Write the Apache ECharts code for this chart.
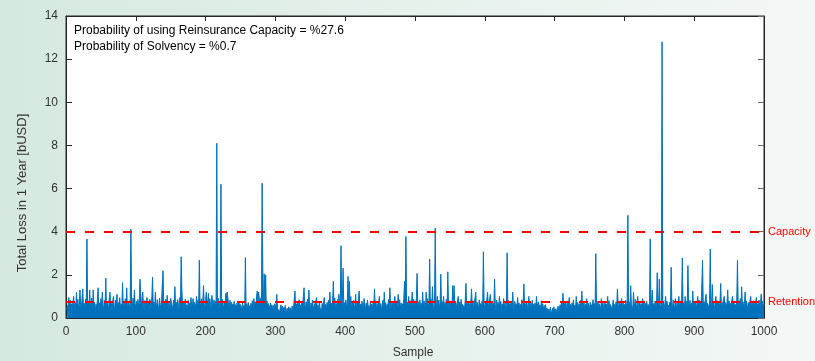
<!DOCTYPE html>
<html><head><meta charset="utf-8">
<script src="https://cdn.jsdelivr.net/npm/echarts@6/dist/echarts.min.js"></script>
<style>
html,body{margin:0;padding:0;}
#c{width:815px;height:361px;background:linear-gradient(to right,#d5e9e0 0%,#e6f1ec 50%,#f3f7f5 100%);}
</style>
</head><body><div id="c"></div>
<script>
// Total loss per sample [bUSD], samples 1..1000 in blocks of 100
const loss0 = [
.42,.38,.61,.95,.47,.83,.29,.66,.52,.74,
1.0,.45,.71,.33,1.2,.58,.86,.41,.63,1.3,
.55,.37,.92,1.35,.48,.69,.31,.88,.6,3.66,
.44,.79,.52,1.3,.36,.67,.93,.4,1.3,.57,
.73,.26,.64,.49,.85,1.4,.38,.7,.54,.9,
.46,1.2,.62,.34,.81,.5,1.85,.43,.75,.59,
.39,.87,1.2,.48,.68,.32,.79,1.0,.55,.41,
.83,.6,1.1,.36,.72,.5,.94,.44,.65,.38,
1.64,.57,.76,.42,.89,.53,1.4,.35,.7,.61,
.47,.84,4.12,.58,.4,.92,.51,1.3,.66,.45];
const loss1 = [
.78,.39,.86,.54,.68,1.8,1.75,.47,.9,1.2,
.52,.37,.81,.63,.44,.95,.58,.71,.33,.87,
.6,.45,.99,1.89,.53,.74,.4,1.2,.66,.49,
.85,.57,.36,.93,.61,.48,.77,1.6,2.19,.55,
.72,.43,.88,.5,1.05,.38,.79,.62,.46,.91,
.9,.54,.41,.83,.67,1.45,.5,.73,.36,.86,
.59,.44,.95,.63,2.84,1.3,.52,.78,.4,.69,
.87,.48,.61,.35,.82,.56,.7,.43,.95,.6,
.5,.9,.38,.74,.64,.47,1.0,.55,.83,.42,
2.68,.71,.53,.89,.46,.77,1.5,.6,.41,.85];
const loss2 = [
1.2,.55,.74,1.15,.48,.9,.62,.39,1.05,.68,
.51,.84,.44,.77,.6,8.1,.53,.92,.42,.71,
.58,6.2,.47,.86,.64,.35,.79,.55,1.15,.9,
1.2,1.25,.61,.46,.82,.53,.72,.39,.66,.5,
.78,.43,.62,.35,.7,.56,.48,.74,.4,.63,
.52,.37,.69,.45,.58,.33,2.8,.5,.64,.41,
.72,.46,.57,.36,.68,.52,.8,.44,.9,.6,
.75,.5,.98,1.25,.66,1.2,.85,.58,.93,.71,
6.25,2.08,.62,2.05,.54,2.0,.48,.79,.4,.67,
.55,.37,.7,.45,.61,.33,.58,.42,.66,.5];
const loss3 = [
.63,1.1,.44,.36,.52,.28,.47,.61,.32,.55,
.3,.49,.38,.58,.6,.27,.45,.35,.52,.31,
.48,.4,.29,.56,.37,.5,.42,1.25,.46,.66,
.39,.72,.53,.85,.44,.61,.36,.78,.57,.48,
1.4,.62,.41,.75,.5,.88,.45,1.3,.59,.38,
.7,.47,.83,.55,.36,.66,.51,.79,.95,.43,
.6,.34,.74,.48,.57,.29,.68,.45,.53,.95,
.41,.63,.37,.72,.5,.82,.44,1.2,.56,.69,
.46,.78,1.7,.58,.93,.43,.67,.52,.86,.4,
1.1,.61,.75,3.35,.5,.88,2.31,.47,.71,.55];
const loss4 = [
.84,.42,.66,1.93,.59,1.7,.5,1.0,.38,.73,
.56,.81,.45,.62,1.1,.39,.7,.53,.9,1.25,
.47,.64,.35,.78,.55,.42,.9,.6,.37,.69,
.51,.83,.44,.58,.36,.72,.49,.65,.4,.77,
.54,1.35,.46,.8,.38,.61,.52,.74,1.0,.43,
.67,.35,.58,.82,.47,1.2,.55,.71,.4,.63,
.5,.86,.44,1.4,.59,.37,.75,.52,.68,.41,
1.0,.56,.79,.45,.62,1.1,.48,.85,.39,.7,
.53,.66,.42,.9,1.7,.58,3.78,.47,.74,.61,
1.0,.44,.8,.55,.68,1.2,.5,.87,.41,.73];
const loss5 = [
.6,.92,2.07,.48,.75,.56,.84,.43,.68,.52,
1.2,.47,.79,.58,.38,1.2,.63,.9,.45,.71,
2.73,.54,.86,.49,1.45,.6,.41,.77,4.17,.56,
.68,1.0,.44,.83,.52,.65,2.03,.47,.76,.58,
1.0,.4,.72,.55,.88,.46,2.14,.61,.37,.8,
.53,.69,.44,1.5,.62,1.5,.48,.78,.35,.66,
.57,1.0,.42,.74,.5,.87,.39,.63,.55,.71,
.45,.82,1.6,.51,.68,.38,.76,.59,.44,.7,
1.35,.52,.8,.41,.65,.57,1.2,.46,.73,.6,
.39,.84,.53,.67,.45,.78,.56,3.07,.62,.48];
const loss6 = [
.74,.5,.88,1.2,.43,.66,.57,1.1,.4,.79,
.55,.69,.46,1.8,.61,.37,.83,.52,.72,.44,
1.0,.58,.76,.41,.65,.53,.9,.47,.7,.36,
.62,3.02,.5,.81,.45,.68,.56,.74,.42,1.2,
.59,.38,.77,.51,.66,.44,.95,.55,.7,.4,
.63,.48,.85,.36,.72,1.58,.5,.67,.43,.78,
.54,.41,1.0,.6,.46,.73,.37,.82,.52,.64,
.45,.7,.39,1.0,.56,.48,.75,.42,.61,.35,
.8,.5,.66,.38,.58,.44,.62,.33,.47,.28,
.41,.22,.36,.5,.18,.31,.45,.24,.52,.33];
const loss7 = [
.27,.43,.19,.38,.55,.3,.46,.62,.39,.71,
.5,1.15,.44,.68,.36,.79,.53,.41,.74,.58,
.95,.47,.63,.39,.7,.52,.84,.45,.6,.37,
1.0,.55,.72,.43,.66,.5,.81,.4,1.25,.59,
.46,.75,.38,.64,.52,.9,.44,.69,.57,.36,
.73,.48,.62,.41,.85,.54,.67,.39,2.98,.6,
.5,.78,.43,.66,.55,.35,.9,.48,.71,.58,
.42,.76,.53,.65,.38,1.0,.57,.8,.45,.62,
.7,.4,.58,.84,.47,.63,.36,.75,.52,1.35,
.6,.44,.79,.55,.68,.9,.41,.72,.5,.63];
const loss8 = [
.47,.82,.56,.69,4.76,.53,.75,.42,1.5,.64,
.58,.38,1.2,.7,.49,.86,.55,.44,1.0,.61,
.36,.73,.52,.66,.43,.9,.57,.8,.4,.68,
.54,.77,.45,.63,.38,.71,3.67,.56,.84,1.3,
.5,.67,.44,.79,.59,.41,2.1,.72,.53,1.8,
.62,.46,.88,12.8,.55,.7,.4,.65,1.0,.51,
.78,.43,.6,.37,.74,.52,2.35,.66,.48,.83,
.57,.4,.9,.63,.45,.76,.54,1.0,.42,.69,
.6,.85,2.78,.5,.71,.44,1.0,.58,.77,.47,
2.43,.65,.53,.82,.41,.7,.56,1.25,.48,.74];
const loss9 = [
.52,.79,.44,.67,1.0,.58,.83,.4,.71,.55,
.63,2.67,.47,.76,.53,.88,1.1,.42,.68,.6,
.45,.81,3.2,.56,.7,1.55,.49,.74,.38,.65,
1.0,.54,.8,.43,.69,.51,.77,1.6,.46,.62,
.58,.85,1.0,.41,.72,.55,.66,1.3,.48,.79,
.52,.68,.4,.86,1.0,.57,.74,.45,.63,.5,
.82,2.68,.47,.7,.56,.9,.43,1.45,.61,.75,
.5,.66,1.2,.44,.79,.58,.38,.72,.53,.84,
1.0,.46,.69,.55,.8,.41,.74,.6,.95,.48,
.67,.52,.83,.44,.71,1.1,.57,.78,.43,.65];

const capacityLevel = 4;
const retentionLevel = 0.75;
const thresholdNames = ['Capacity', 'Retention'];
const annotationLines = ['Probability of using Reinsurance Capacity = %27.6', 'Probability of Solvency = %0.7'];
const xName = 'Sample';
const yName = 'Total Loss in 1 Year [bUSD]';

const loss = [].concat(loss0, loss1, loss2, loss3, loss4, loss5, loss6, loss7, loss8, loss9);
const seriesData = loss.map((v, i) => [i + 1, v]);

const FONT = "'Liberation Sans', Arial, sans-serif";
const chart = echarts.init(document.getElementById('c'), null, {renderer: 'canvas'});
const gridL = 66, gridR = 51, gridT = 16, gridB = 43;
const axisLineStyle = {color: '#262626', width: 1};
chart.setOption({
  animation: false,
  backgroundColor: 'transparent',
  grid: {left: gridL, right: gridR, top: gridT, bottom: gridB, show: true, backgroundColor: '#ffffff', borderColor: '#262626', borderWidth: 1, containLabel: false},
  xAxis: [{
    type: 'value', min: 0, max: 1000, interval: 100, position: 'bottom',
    axisLine: {show: true, onZero: false, lineStyle: axisLineStyle},
    axisTick: {show: true, inside: true, length: 5, lineStyle: axisLineStyle},
    axisLabel: {color: '#333', fontSize: 12, fontFamily: FONT, margin: 8, formatter: v => String(v)},
    splitLine: {show: false}
  }, {
    type: 'value', min: 0, max: 1000, interval: 100, position: 'top',
    axisLine: {show: true, onZero: false, lineStyle: axisLineStyle},
    axisTick: {show: true, inside: true, length: 5, lineStyle: axisLineStyle},
    axisLabel: {show: false}, splitLine: {show: false}
  }],
  yAxis: [{
    type: 'value', min: 0, max: 14, interval: 2, position: 'left',
    axisLine: {show: true, onZero: false, lineStyle: axisLineStyle},
    axisTick: {show: true, inside: true, length: 6, lineStyle: axisLineStyle},
    axisLabel: {color: '#333', fontSize: 12, fontFamily: FONT, margin: 8},
    splitLine: {show: false}
  }, {
    type: 'value', min: 0, max: 14, interval: 2, position: 'right',
    axisLine: {show: true, onZero: false, lineStyle: axisLineStyle},
    axisTick: {show: true, inside: true, length: 6, lineStyle: {color: '#666', width: 1}},
    axisLabel: {show: false}, splitLine: {show: false}
  }],
  series: [{
    type: 'line', data: seriesData, xAxisIndex: 0, yAxisIndex: 0,
    showSymbol: false, symbol: 'none', sampling: null,
    lineStyle: {color: '#0072BD', width: 1},
    areaStyle: {color: '#0072BD', opacity: 1},
    z: 2,
    markLine: {
      silent: true, symbol: 'none', animation: false,
      lineStyle: {color: '#ff0000', width: 2, type: [9, 10]},
      label: {show: true, position: 'end', distance: 4, color: '#ff0000', fontSize: 11, fontFamily: FONT, formatter: p => p.name},
      data: [
        {name: thresholdNames[0], yAxis: capacityLevel},
        {name: thresholdNames[1], yAxis: retentionLevel}
      ]
    }
  }],
  graphic: [
    {type: 'text', left: 74, top: 25, style: {text: annotationLines[0], fill: '#000', font: '12px ' + FONT}},
    {type: 'text', left: 74, top: 41, style: {text: annotationLines[1], fill: '#000', font: '12px ' + FONT}},
    {type: 'text', x: 22, y: 193, rotation: Math.PI / 2, style: {text: yName, fill: '#333', font: '13px ' + FONT, align: 'center', verticalAlign: 'middle'}},
    {type: 'text', x: 413, y: 353, style: {text: xName, fill: '#333', font: '12px ' + FONT, align: 'center', verticalAlign: 'middle'}}
  ]
});
</script></body></html>
